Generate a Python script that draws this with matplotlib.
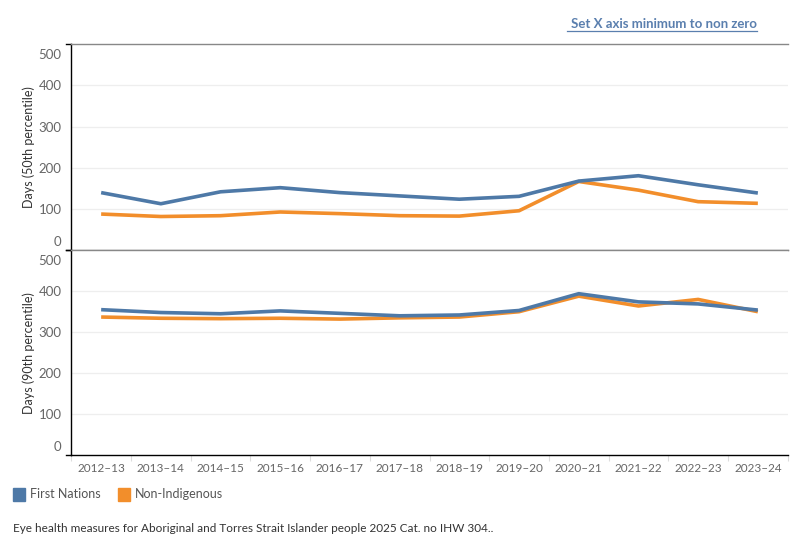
import matplotlib
matplotlib.use("Agg")
import matplotlib.pyplot as plt
from matplotlib.lines import Line2D
from matplotlib.patches import Rectangle
from matplotlib.transforms import ScaledTranslation
import numpy as np

plt.rcParams['font.family'] = ['Lato', 'DejaVu Sans']

years = ["2012–13", "2013–14", "2014–15", "2015–16", "2016–17", "2017–18",
         "2018–19", "2019–20", "2020–21", "2021–22", "2022–23", "2023–24"]
fn_p50 = [140, 113, 142, 152, 140, 132, 124, 131, 168, 181, 159, 139]
ni_p50 = [88, 82, 84, 93, 89, 84, 83, 96, 167, 146, 118, 114]
fn_p90 = [355, 348, 345, 352, 346, 340, 342, 353, 394, 374, 369, 354]
ni_p90 = [337, 334, 333, 334, 332, 335, 337, 350, 388, 364, 380, 350]
yticks = [0, 100, 200, 300, 400, 500]
series_names = ["First Nations", "Non-Indigenous"]
colors = ["#4e79a7", "#f28e2b"]

fig = plt.figure(figsize=(8, 5.5), dpi=100)
W, H = 800, 550
left, right = 71.3, 787.7
panels = [(44.3, 250.3, fn_p50, ni_p50, "Days (50th percentile)"),
          (250.3, 455.0, fn_p90, ni_p90, "Days (90th percentile)")]

x = np.arange(len(years))
tick_col = "#666666"
axes = []
for i, (top, bot, fn, ni, ylab) in enumerate(panels):
    ax = fig.add_axes([left / W, 1 - bot / H, (right - left) / W, (bot - top) / H])
    axes.append(ax)
    ax.set_xlim(-0.5, len(years) - 0.5)
    ax.set_ylim(0, 500)
    for y in yticks[1:-1]:
        ax.axhline(y, color="#eeeeee", lw=0.9, zorder=0)
    ax.plot(x, fn, color=colors[0], lw=2.6, solid_capstyle='butt', zorder=3)
    ax.plot(x, ni, color=colors[1], lw=2.6, solid_capstyle='butt', zorder=2)
    ax.set_yticks(yticks)
    ax.set_yticklabels([str(v) for v in yticks])
    ax.tick_params(axis='y', length=0, pad=7, labelsize=9.5, labelcolor=tick_col)
    labs = ax.get_yticklabels()
    labs[0].set_transform(labs[0].get_transform() + ScaledTranslation(0, 9 / 100, fig.dpi_scale_trans))
    labs[-1].set_transform(labs[-1].get_transform() + ScaledTranslation(0, -10 / 100, fig.dpi_scale_trans))
    ax.set_ylabel(ylab, fontsize=9, color="#333333")
    ax.spines['right'].set_visible(False)
    ax.spines['left'].set_color('black')
    ax.spines['left'].set_linewidth(1.0)
    ax.spines['top'].set_color('#888888')
    ax.spines['top'].set_linewidth(1.0)
    for yy in (0, 1):
        ax.add_line(Line2D([-0.007, 0], [yy, yy], transform=ax.transAxes,
                           color='black', lw=1.0, clip_on=False))
    if i == 0:
        ax.spines['bottom'].set_color('#888888')
        ax.spines['bottom'].set_linewidth(1.0)
        ax.set_xticks([])
    else:
        ax.spines['bottom'].set_color('black')
        ax.spines['bottom'].set_linewidth(1.0)
        ax.set_xticks(x)
        ax.set_xticklabels(years)
        ax.tick_params(axis='x', length=0, pad=6, labelsize=8.5, labelcolor=tick_col)
        ax.set_xticks(np.arange(-0.5, len(years), 1.0), minor=True)
        ax.tick_params(axis='x', which='minor', length=4, color='#dddddd', width=0.8)

for ax in axes:
    ax.yaxis.set_label_coords(-0.051, 0.5)

fig.text(757 / W, 1 - 24 / H, "Set X axis minimum to non zero", ha='right', va='center',
         fontsize=9.5, fontweight='bold', color="#5a7fae")
fig.add_artist(Line2D([567 / W, 757 / W], [1 - 31 / H, 1 - 31 / H], color="#5a7fae", lw=0.9))

leg_items = [(13, 30, series_names[0], colors[0]), (118, 135, series_names[1], colors[1])]
for sx, tx, name, c in leg_items:
    fig.add_artist(Rectangle((sx / W, 1 - 500.7 / H), 12 / W, 12.5 / H, color=c,
                             transform=fig.transFigure))
    fig.text(tx / W, 1 - 494 / H, name, ha='left', va='center', fontsize=9, color="#555555")

fig.text(13 / W, 1 - 528 / H,
         "Eye health measures for Aboriginal and Torres Strait Islander people 2025 Cat. no IHW 304..",
         ha='left', va='center', fontsize=8.5, color="#333333")

fig.savefig("out.png", dpi=100)
